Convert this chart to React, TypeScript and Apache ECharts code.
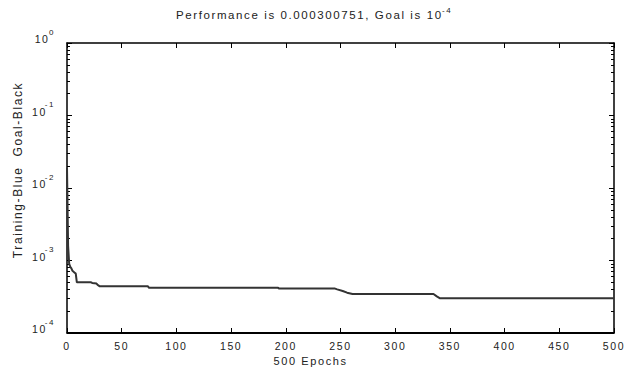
import React, { useEffect, useRef } from "react";
import * as echarts from "echarts";

// Training performance (epoch, mse)
const epochs = [0, 1, 2, 3, 4, 5, 6, 7, 8, 9, 22, 23, 27, 28, 30, 74, 75, 193, 194, 245, 247, 252, 256, 261, 335, 338, 341, 500];
const perf = [0.019, 0.0016, 0.0009, 0.00082, 0.00078, 0.00072, 0.0007, 0.00068, 0.00066, 0.0005, 0.0005, 0.00049, 0.00048, 0.00046, 0.00044, 0.00044, 0.00042, 0.00042, 0.00041, 0.00041, 0.0004, 0.00038, 0.00036, 0.000345, 0.000345, 0.00032, 0.000300751, 0.000300751];
const goalEpochs = [0, 500];
const goalValues = [1e-4, 1e-4];
const xTicks = [0, 50, 100, 150, 200, 250, 300, 350, 400, 450, 500];
const yMajor = [1e-4, 1e-3, 1e-2, 1e-1, 1];
const yMinor = [2e-4, 3e-4, 4e-4, 5e-4, 6e-4, 7e-4, 8e-4, 9e-4, 2e-3, 3e-3, 4e-3, 5e-3, 6e-3, 7e-3, 8e-3, 9e-3, 2e-2, 3e-2, 4e-2, 5e-2, 6e-2, 7e-2, 8e-2, 9e-2, 0.2, 0.3, 0.4, 0.5, 0.6, 0.7, 0.8, 0.9];
const titleMain = "Performance is 0.000300751, Goal is 10";
const titleExp = "-4";
const xName = "500 Epochs";
const yName = "Training-Blue  Goal-Black";

const FONT = "Liberation Sans";
const TXT = "#222";

export default function App() {
  const ref = useRef<HTMLDivElement>(null);
  useEffect(() => {
    document.body.style.margin = "0";
    const chart = echarts.init(ref.current!, null, { renderer: "svg" });
    const baseY = {
      type: "log" as const,
      logBase: 10,
      min: 1e-4,
      max: 1,
      gridIndex: 0,
      splitLine: { show: false },
      minorTick: { show: false },
    };
    chart.setOption({
      animation: false,
      backgroundColor: "#fff",
      title: {
        text: titleMain,
        left: 176,
        top: 9,
        padding: 0,
        textStyle: { fontFamily: FONT, fontSize: 11.5, fontWeight: "normal", color: TXT },
      },
      graphic: [
        {
          type: "text",
          x: 442,
          y: 6,
          style: { text: titleExp, fontFamily: FONT, fontSize: 8, fill: TXT },
        },
      ],
      grid: { left: 67, right: 26, top: 43, bottom: 41 },
      xAxis: [
        {
          type: "value",
          min: 0,
          max: 500,
          interval: 50,
          position: "bottom",
          name: xName,
          nameLocation: "middle",
          nameGap: 16,
          nameTextStyle: { fontFamily: FONT, fontSize: 11, color: TXT, padding: [0, 60, 0, 0] },
          axisLine: { show: true, lineStyle: { color: "#000", width: 1.5 } },
          axisTick: { inside: true, length: 5, lineStyle: { color: "#000" } },
          axisLabel: {
            margin: 7,
            fontFamily: FONT,
            fontSize: 10.5,
            color: TXT,
            customValues: xTicks,
          },
          splitLine: { show: false },
        },
        {
          type: "value",
          min: 0,
          max: 500,
          interval: 50,
          position: "top",
          axisLine: { show: true, lineStyle: { color: "#000", width: 1.5 } },
          axisTick: { inside: true, length: 5, lineStyle: { color: "#000" } },
          axisLabel: { show: false },
          splitLine: { show: false },
        },
      ],
      yAxis: [
        {
          ...baseY,
          position: "left",
          name: yName,
          nameLocation: "middle",
          nameRotate: 90,
          nameGap: 40,
          nameTextStyle: { fontFamily: FONT, fontSize: 12, color: TXT, padding: [0, 0, 0, 36] },
          axisLine: { show: true, lineStyle: { color: "#000", width: 1.5 } },
          axisTick: { inside: true, length: 5, lineStyle: { color: "#000" }, customValues: yMajor },
          axisLabel: {
            margin: 12,
            customValues: yMajor,
            formatter: (v: number) => `{b|10}{s|${Math.round(Math.log10(v))}}`,
            rich: {
              b: { fontFamily: FONT, fontSize: 10.5, color: TXT, padding: [0, 0, 8, 0] },
              s: { fontFamily: FONT, fontSize: 8, color: TXT, padding: [0, 0, 22, 1] },
            },
          },
        },
        {
          ...baseY,
          position: "left",
          axisLine: { show: false },
          axisTick: { inside: true, length: 3, lineStyle: { color: "#000" }, customValues: yMinor },
          axisLabel: { show: false },
        },
        {
          ...baseY,
          position: "right",
          axisLine: { show: true, lineStyle: { color: "#000", width: 1.5 } },
          axisTick: { inside: true, length: 5, lineStyle: { color: "#000" }, customValues: yMajor },
          axisLabel: { show: false },
        },
        {
          ...baseY,
          position: "right",
          axisLine: { show: false },
          axisTick: { inside: true, length: 3, lineStyle: { color: "#000" }, customValues: yMinor },
          axisLabel: { show: false },
        },
      ],
      series: [
        {
          type: "line",
          name: "Training",
          xAxisIndex: 0,
          yAxisIndex: 0,
          data: epochs.map((e, i) => [e, perf[i]]),
          showSymbol: false,
          symbol: "none",
          lineStyle: { color: "#333", width: 2 },
          clip: true,
        },
        {
          type: "line",
          name: "Goal",
          xAxisIndex: 0,
          yAxisIndex: 0,
          data: goalEpochs.map((e, i) => [e, goalValues[i]]),
          showSymbol: false,
          symbol: "none",
          lineStyle: { color: "#000", width: 2 },
          clip: false,
        },
      ],
    });
    return () => chart.dispose();
  }, []);
  return (
    <>
      <style>{`#perf-chart text{letter-spacing:1.6px}`}</style>
      <div id="perf-chart" ref={ref} style={{ width: 640, height: 374 }} />
    </>
  );
}
